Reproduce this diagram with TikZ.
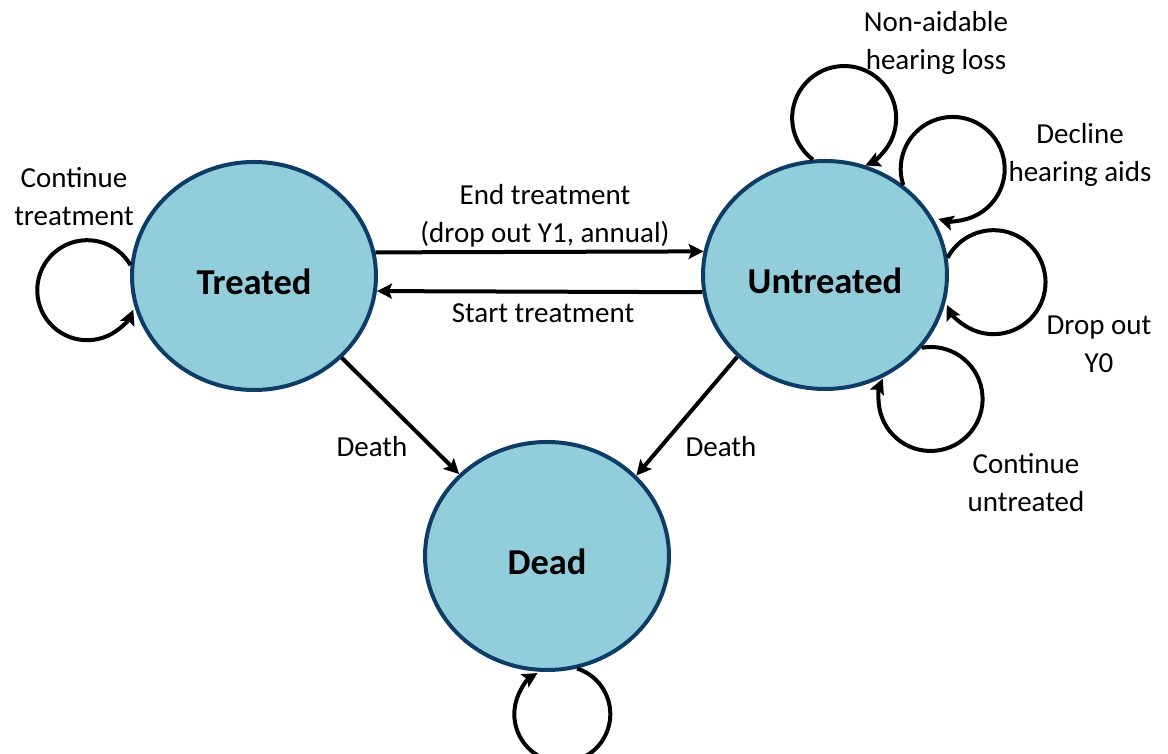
\documentclass[tikz,border=0pt]{standalone}
\usepackage{fontspec}
\setmainfont{Carlito}
\usetikzlibrary{arrows.meta,shapes.geometric}

\definecolor{stfill}{RGB}{146,205,220}
\definecolor{stline}{RGB}{13,61,102}

\begin{document}
\begin{tikzpicture}[
  x=1pt, y=1pt,
  state/.style={ellipse, draw=stline, fill=stfill, line width=4pt, minimum width=244pt, minimum height=228pt, inner sep=0pt, text height=38pt, text depth=0pt, font=\fontsize{36.5}{44}\selectfont\bfseries},
  edge/.style={-{Stealth[length=15pt,width=15pt,inset=3pt]}, line width=4pt},
  lbl/.style={align=center, inner sep=0pt, font=\fontsize{29}{38}\selectfont}
]
  \useasboundingbox (0,0) rectangle (1168,754);

  \node[state] (treated) at (254,478) {Treated};
  \node[state] (untreated) at (825,479) {Untreated};
  \node[state] (dead) at (547,198) {Dead};

  \draw[edge] (treated.11.4) -- (untreated.169.1);
  \draw[edge] (untreated.188) -- (treated.-7.8);
  \draw[edge] (treated.-43) -- (dead.137);
  \draw[edge] (untreated.223.7) -- (dead.42.7);

  \draw[edge] (treated.175) arc[start angle=30, end angle=337, radius=50];
  \draw[edge] (untreated.96) arc[start angle=233, end angle=-66, radius=52];
  \draw[edge] (untreated.49) arc[start angle=198, end angle=-106, radius=52];
  \draw[edge] (untreated.8) arc[start angle=152, end angle=-154, radius=52];
  \draw[edge] (untreated.-37) arc[start angle=100, end angle=-203, radius=52];
  \draw[edge] (dead.-75) arc[start angle=72, end angle=-239, radius=48];

  \node[lbl] (ctreat) at (74,557) {Continue\\treatment};
  \node[lbl] (endlbl) at (545,538) {End treatment\\(drop out Y1, annual)};
  \node[lbl] (startlbl) at (543,441) {Start treatment};
  \node[lbl] (deathl) at (372,307) {Death};
  \node[lbl] (deathr) at (721,307) {Death};
  \node[lbl] (nonaid) at (936,711) {Non-aidable\\hearing loss};
  \node[lbl] (decline) at (1080,599) {Decline\\hearing aids};
  \node[lbl] (dropyzero) at (1099,410) {Drop out\\Y0};
  \node[lbl] (cuntreat) at (1026,271) {Continue\\untreated};
\end{tikzpicture}
\end{document}
